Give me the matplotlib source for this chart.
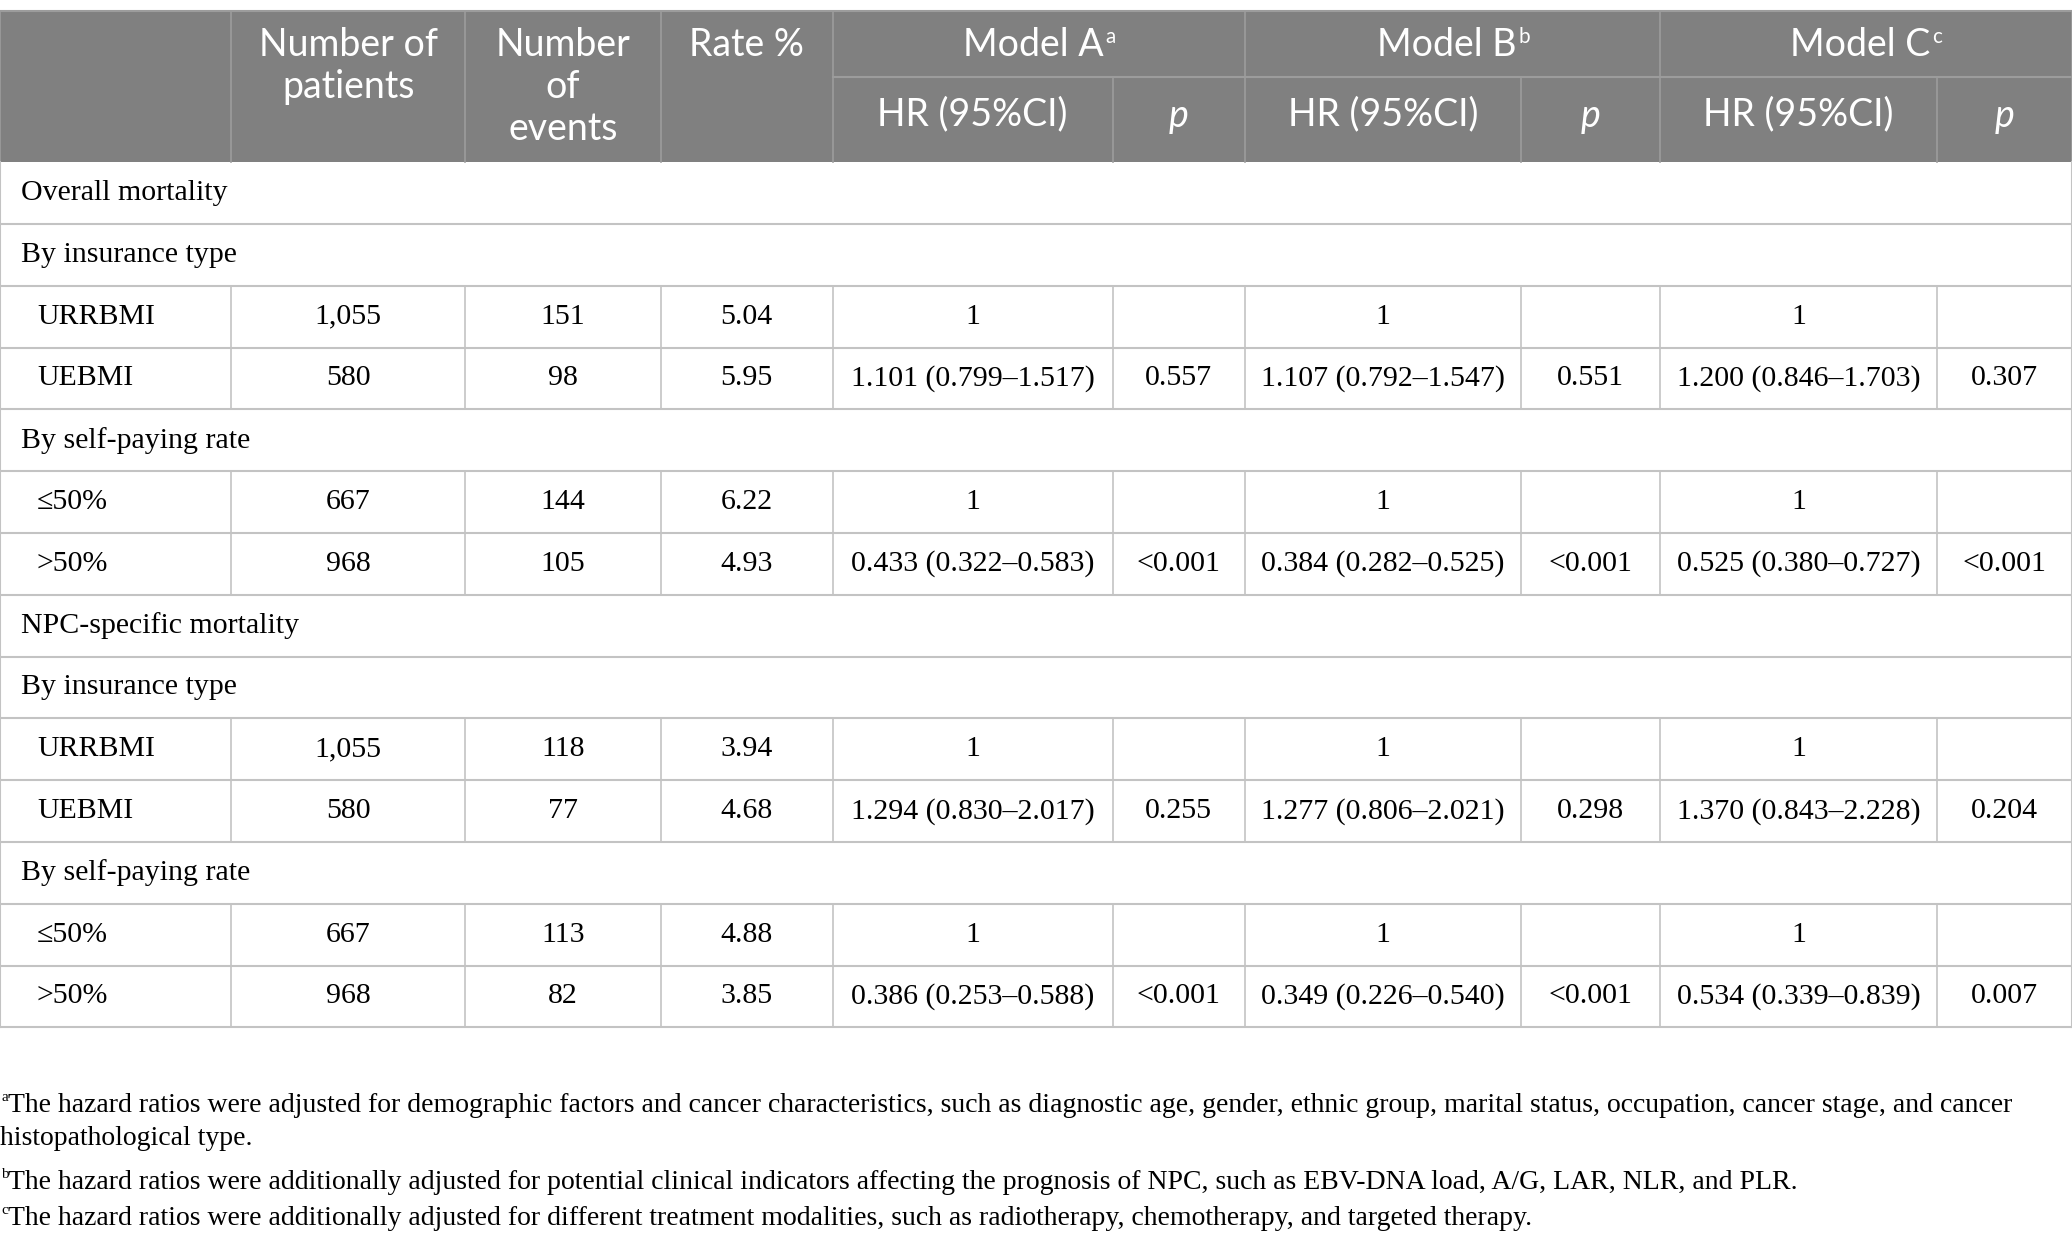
import matplotlib
matplotlib.use("Agg")
import matplotlib.pyplot as plt

# ---- data ----
groups = ["Overall mortality", "NPC-specific mortality"]
subgroups = ["By insurance type", "By self-paying rate"]
levels = [["URRBMI", "UEBMI"], ["\u226450%", ">50%"]]

n_patients = [["1,055", "580"], ["667", "968"]]
n_events = {
    "Overall mortality": [["151", "98"], ["144", "105"]],
    "NPC-specific mortality": [["118", "77"], ["113", "82"]],
}
rates = {
    "Overall mortality": [["5.04", "5.95"], ["6.22", "4.93"]],
    "NPC-specific mortality": [["3.94", "4.68"], ["4.88", "3.85"]],
}
hr_a = {
    "Overall mortality": [["1", "1.101 (0.799\u20131.517)"], ["1", "0.433 (0.322\u20130.583)"]],
    "NPC-specific mortality": [["1", "1.294 (0.830\u20132.017)"], ["1", "0.386 (0.253\u20130.588)"]],
}
p_a = {
    "Overall mortality": [["", "0.557"], ["", "<0.001"]],
    "NPC-specific mortality": [["", "0.255"], ["", "<0.001"]],
}
hr_b = {
    "Overall mortality": [["1", "1.107 (0.792\u20131.547)"], ["1", "0.384 (0.282\u20130.525)"]],
    "NPC-specific mortality": [["1", "1.277 (0.806\u20132.021)"], ["1", "0.349 (0.226\u20130.540)"]],
}
p_b = {
    "Overall mortality": [["", "0.551"], ["", "<0.001"]],
    "NPC-specific mortality": [["", "0.298"], ["", "<0.001"]],
}
hr_c = {
    "Overall mortality": [["1", "1.200 (0.846\u20131.703)"], ["1", "0.525 (0.380\u20130.727)"]],
    "NPC-specific mortality": [["1", "1.370 (0.843\u20132.228)"], ["1", "0.534 (0.339\u20130.839)"]],
}
p_c = {
    "Overall mortality": [["", "0.307"], ["", "<0.001"]],
    "NPC-specific mortality": [["", "0.204"], ["", "0.007"]],
}

col_headers = ["Number of\npatients", "Number\nof\nevents", "Rate %"]
model_names = [("Model A", "a"), ("Model B", "b"), ("Model C", "c")]
footnotes = [
    ("a", "The hazard ratios were adjusted for demographic factors and cancer characteristics, such as diagnostic age, gender, ethnic group, marital status, occupation, cancer stage, and cancer\nhistopathological type."),
    ("b", "The hazard ratios were additionally adjusted for potential clinical indicators affecting the prognosis of NPC, such as EBV-DNA load, A/G, LAR, NLR, and PLR."),
    ("c", "The hazard ratios were additionally adjusted for different treatment modalities, such as radiotherapy, chemotherapy, and targeted therapy."),
]

# ---- layout (in reference units) ----
W, H = 1568, 933
cols = [0, 175, 352, 500, 630, 842, 942, 1151, 1256, 1466, 1568]
head_top, head_mid, head_bot = 8, 58, 122
row_h = 46.5

HEAD_BG = "#808080"
HEAD_LINE = "#9c9c9c"
GRID = "#c3c3c3"
SANS = ["Lato", "DejaVu Sans"]
SERIF = ["Liberation Serif", "DejaVu Serif"]
BODY_FS = 21.5
HEAD_FS = 27
FOOT_FS = 20

fig = plt.figure(figsize=(20.72, 12.40), dpi=100)
ax = fig.add_axes([0, 0, 1, 1])
ax.set_xlim(0, W)
ax.set_ylim(H, 0)
ax.axis("off")

# header background
ax.add_patch(plt.Rectangle((0, head_top), W, head_bot - head_top, color=HEAD_BG, lw=0))
ax.plot([0, W], [head_top, head_top], color=HEAD_LINE, lw=1.5)
ax.plot([cols[4], W], [head_mid, head_mid], color=HEAD_LINE, lw=1.5)
for i, x in enumerate(cols):
    if i in (5, 7, 9):
        ax.plot([x, x], [head_mid, head_bot], color=HEAD_LINE, lw=1.2)
    else:
        ax.plot([x, x], [head_top, head_bot], color=HEAD_LINE, lw=1.2)

# header text
for j, txt in enumerate(col_headers):
    cx = (cols[j + 1] + cols[j + 2]) / 2
    for k, line in enumerate(txt.split("\n")):
        ax.text(cx, 34 + k * 31.5, line, ha="center", va="center", color="white",
                fontsize=HEAD_FS, family=SANS)

fig.canvas.draw()
renderer = fig.canvas.get_renderer()
for m, (name, sup) in enumerate(model_names):
    x0, x1 = cols[4 + 2 * m], cols[6 + 2 * m]
    cx = (x0 + x1) / 2
    t = ax.text(cx - 4, 34, name, ha="center", va="center", color="white",
                fontsize=HEAD_FS, family=SANS)
    bb = t.get_window_extent(renderer).transformed(ax.transData.inverted())
    ax.text(bb.x1 + 1, 28, sup, ha="left", va="center", color="white",
            fontsize=HEAD_FS * 0.55, family=SANS)
    ax.text((cols[4 + 2 * m] + cols[5 + 2 * m]) / 2, 86, "HR (95%CI)", ha="center",
            va="center", color="white", fontsize=HEAD_FS, family=SANS)
    ax.text((cols[5 + 2 * m] + cols[6 + 2 * m]) / 2, 87, "p", ha="center",
            va="center", color="white", fontsize=HEAD_FS, family=SANS, style="italic")

# body
y = head_bot
ax.plot([0, 0], [head_bot, head_bot + 14 * row_h], color=GRID, lw=1.5)
ax.plot([W, W], [head_bot, head_bot + 14 * row_h], color=GRID, lw=1.5)


def hline(yy):
    ax.plot([0, W], [yy, yy], color=GRID, lw=1.5)


for g in groups:
    ax.text(16, y + row_h / 2, g, ha="left", va="center", fontsize=BODY_FS, family=SERIF)
    y += row_h
    hline(y)
    for s, sub in enumerate(subgroups):
        ax.text(16, y + row_h / 2, sub, ha="left", va="center", fontsize=BODY_FS, family=SERIF)
        y += row_h
        hline(y)
        for r, lev in enumerate(levels[s]):
            cells = [n_patients[s][r], n_events[g][s][r], rates[g][s][r],
                     hr_a[g][s][r], p_a[g][s][r], hr_b[g][s][r], p_b[g][s][r],
                     hr_c[g][s][r], p_c[g][s][r]]
            yc = y + row_h / 2
            ax.text(28, yc, lev, ha="left", va="center", fontsize=BODY_FS, family=SERIF)
            for c, val in enumerate(cells):
                ax.text((cols[c + 1] + cols[c + 2]) / 2, yc, val, ha="center", va="center",
                        fontsize=BODY_FS, family=SERIF)
            for x in cols[1:-1]:
                ax.plot([x, x], [y, y + row_h], color=GRID, lw=1.2)
            y += row_h
            hline(y)

# footnotes
fy = [832, 890, 917]
for (sup, txt), yy in zip(footnotes, fy):
    ax.text(1, yy - 6, sup, ha="left", va="center", fontsize=11, family=SERIF)
    for k, line in enumerate(txt.split("\n")):
        ax.text(6 if k == 0 else 0, yy + k * 25, line, ha="left", va="center",
                fontsize=FOOT_FS, family=SERIF)

fig.savefig("out.png", dpi=100)
plt.close()
